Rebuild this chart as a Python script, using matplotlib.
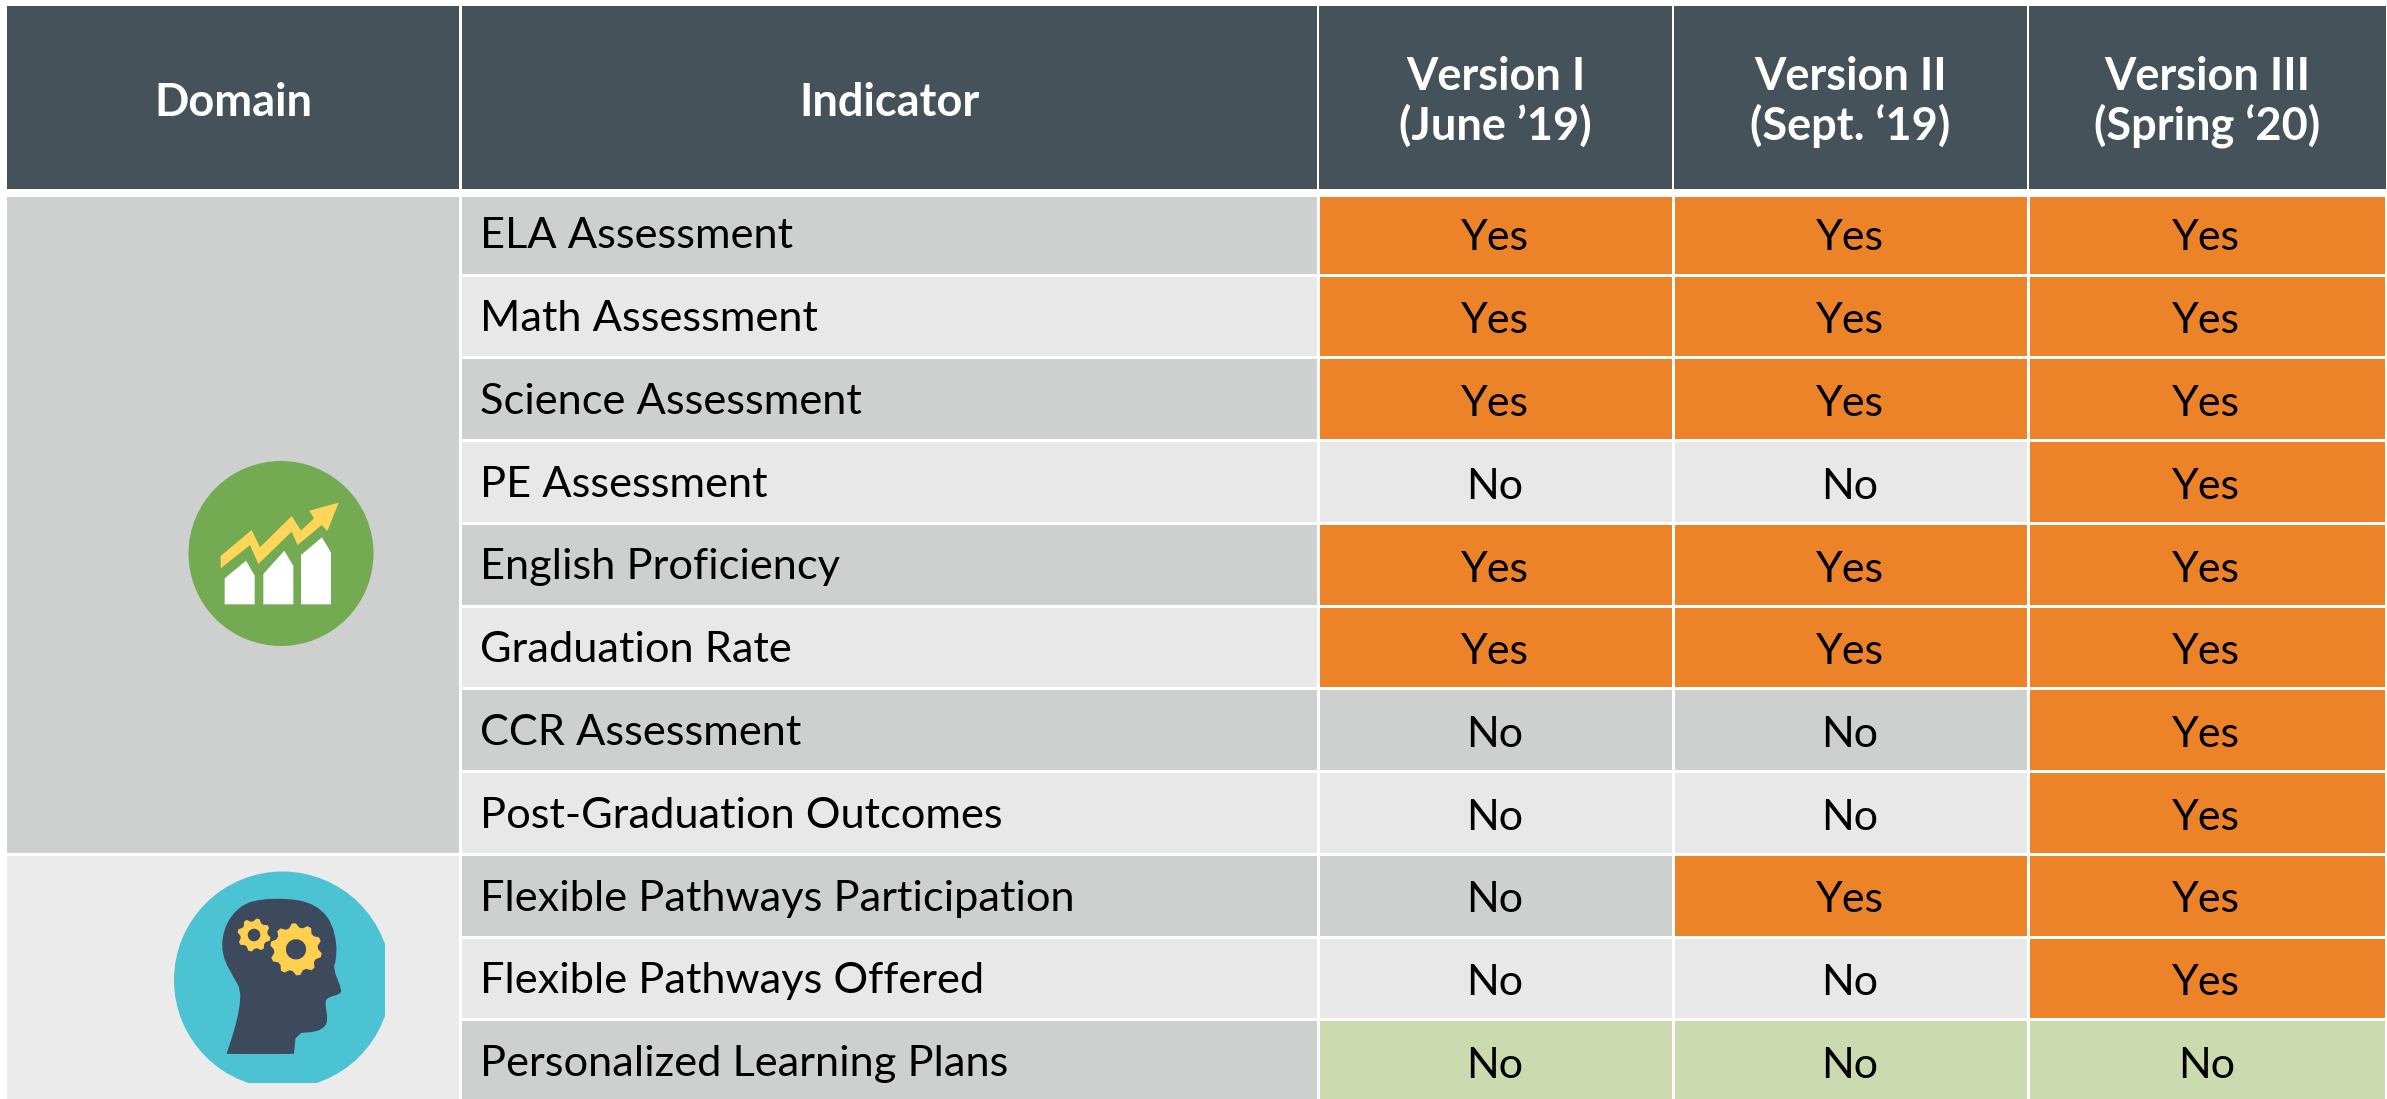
"""Indicator availability table by dashboard version."""
import matplotlib

matplotlib.use("Agg")
import matplotlib.pyplot as plt
import numpy as np
from matplotlib.patches import Circle, Polygon, Rectangle

W, H = 2387, 1099

headers = ["Domain", "Indicator", "Version I\n(June ’19)", "Version II\n(Sept. ‘19)", "Version III\n(Spring ‘20)"]
indicators = [
    "ELA Assessment", "Math Assessment", "Science Assessment", "PE Assessment",
    "English Proficiency", "Graduation Rate", "CCR Assessment",
    "Post-Graduation Outcomes", "Flexible Pathways Participation",
    "Flexible Pathways Offered", "Personalized Learning Plans",
]
version_1 = ["Yes", "Yes", "Yes", "No", "Yes", "Yes", "No", "No", "No", "No", "No"]
version_2 = ["Yes", "Yes", "Yes", "No", "Yes", "Yes", "No", "No", "Yes", "No", "No"]
version_3 = ["Yes", "Yes", "Yes", "Yes", "Yes", "Yes", "Yes", "Yes", "Yes", "Yes", "No"]

HEADER = "#465259"
ORANGE = "#ED8329"
GREY_D = "#CED0CF"
GREY_L = "#E8E8E8"
PALE_GREEN = "#CBDAAF"
NAVY = "#3D4A5E"
GEAR = "#FFD04F"

col_x = [5.5, 460.5, 1318, 1673, 2028, 2386.5]
row_y = [195.2] + [275 + 82.75 * i for i in range(11)]
row_y[-1] = H + 10

plt.rcParams["font.family"] = ["Lato", "DejaVu Sans"]
fig = plt.figure(figsize=(W / 100, H / 100), dpi=100)
ax = fig.add_axes([0, 0, 1, 1])
ax.set_xlim(0, W)
ax.set_ylim(H, 0)
ax.axis("off")


def cell(x0, x1, y0, y1, color, inset=1.5):
    ax.add_patch(Rectangle((x0 + inset, y0 + 1.5), x1 - x0 - 2 * inset, y1 - y0 - 3, fc=color, ec="none"))


def icon_poly(points, ox, oy, color):
    pts = [(ox + x / 3, oy + y / 3) for x, y in points]
    return ax.add_patch(Polygon(pts, fc=color, ec="none"))


def round_corners(points, passes=2):
    # corner cutting so the head outline does not look faceted
    pts = np.asarray(points, dtype=float)
    for _ in range(passes):
        nxt = np.roll(pts, -1, axis=0)
        pts = np.column_stack([0.75 * pts + 0.25 * nxt, 0.25 * pts + 0.75 * nxt]).reshape(-1, 2)
    return pts


def gear(cx, cy, r_out, r_in, teeth, color):
    angles = np.linspace(0, 2 * np.pi, teeth * 4, endpoint=False) + 0.15
    radii = np.tile([r_out, r_out, r_in, r_in], teeth)
    pts = np.column_stack([cx + radii * np.cos(angles), cy + radii * np.sin(angles)])
    icon_poly(pts, 0, 820, color)
    ax.add_patch(Circle((cx / 3, 820 + cy / 3), r_in * 0.46 / 3, fc=NAVY, ec="none"))


# header row
for i, head in enumerate(headers):
    cell(col_x[i], col_x[i + 1] + (0.5 if i == 4 else 0), 4.5, 190, HEADER, inset=1.5 if i < 2 else 0.8)
    cx = (col_x[i] + col_x[i + 1]) / 2
    lines = head.split("\n")
    baselines = [115.5] if len(lines) == 1 else [89.5, 139.5]
    for line, y in zip(lines, baselines):
        ax.text(cx, y, line, color="white", ha="center", va="baseline", fontsize=32.5, fontweight="bold")

# domain cells
cell(col_x[0], col_x[1], row_y[0], row_y[8], GREY_D)
cell(col_x[0], col_x[1], row_y[8], H + 10, "#EBEBEB")

# indicator rows
versions = [version_1, version_2, version_3]
for r, name in enumerate(indicators):
    y0, y1 = row_y[r], row_y[r + 1]
    base = GREY_D if r % 2 == 0 else GREY_L
    cell(col_x[1], col_x[2], y0, y1, base)
    ax.text(480, 248.5 + 82.75 * r, name, va="baseline", fontsize=31.2, color="black")
    for c, vals in enumerate(versions):
        val = vals[r]
        color = ORANGE if val == "Yes" else base
        if r == len(indicators) - 1:
            color = PALE_GREEN
        cell(col_x[c + 2], col_x[c + 3], y0, y1, color)
        ax.text((col_x[c + 2] + col_x[c + 3]) / 2 - 1, 250.5 + 82.75 * r, val, ha="center", va="baseline",
                fontsize=31, color="black")

# growth icon
ax.add_patch(Circle((281, 553.5), 92.5, fc="#74AB52", ec="none"))
for bar in ([(674, 553), (674, 475), (738, 422), (764, 467), (764, 553)],
            [(790, 553), (790, 462), (853, 392), (880, 438), (880, 553)],
            [(903, 553), (903, 405), (966, 352), (993, 398), (993, 553)]):
    icon_poly(bar, 0, 420, "white")
icon_poly([(662, 408), (755, 330), (780, 382), (875, 288), (903, 332), (942, 295), (928, 272),
           (1016, 248), (982, 333), (965, 315), (893, 375), (875, 335), (775, 432), (750, 375),
           (662, 445)], 0, 420, "#FFD55A")

# learner icon, the picture is cropped on its right and bottom edge
disc = ax.add_patch(Circle((282.5, 980), 108.5, fc="#4CC3D2", ec="none"))
disc.set_clip_path(Rectangle((150, 860), 235, 223, transform=ax.transData))
head_outline = round_corners(
    [(680, 700), (700, 640), (718, 570), (722, 510), (700, 470), (675, 425), (665, 380),
     (672, 330), (695, 285), (735, 250), (790, 237), (860, 236), (920, 245), (965, 270),
     (995, 310), (1010, 370), (1008, 420), (1000, 445), (1025, 510), (1020, 522), (985, 532),
     (975, 545), (983, 600), (975, 620), (950, 635), (888, 640), (882, 700), (882, 702),
     (680, 702)], passes=1)
icon_poly(head_outline, 0, 820, NAVY)
gear(762, 345, 50, 41, 8, GEAR)
gear(888, 388, 78, 66, 10, GEAR)

fig.savefig("out.png", dpi=100)
